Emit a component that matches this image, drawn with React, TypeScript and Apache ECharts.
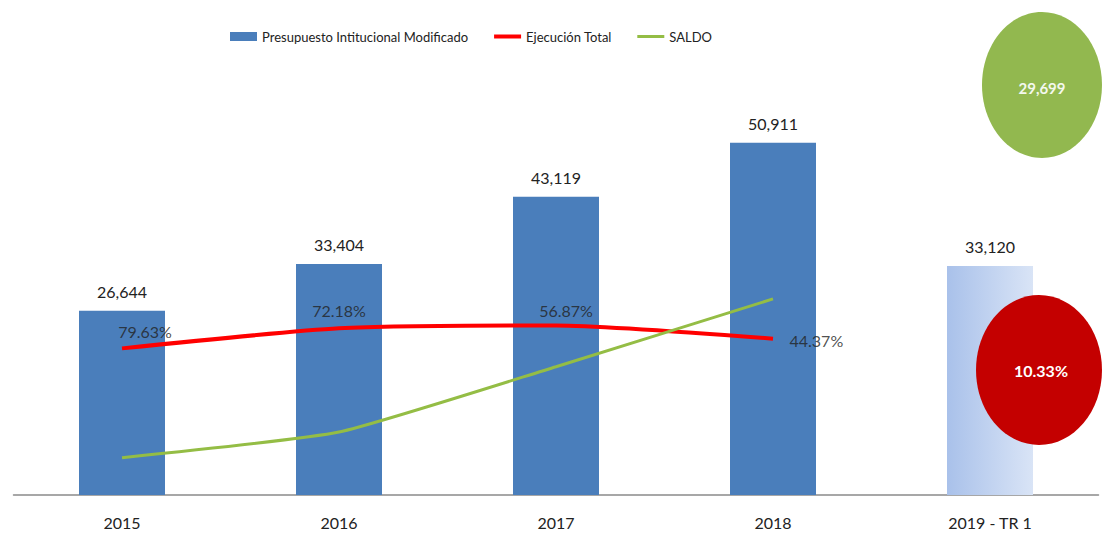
import React, { useEffect, useRef } from "react";
import * as echarts from "echarts";

const categories = ["2015", "2016", "2017", "2018", "2019 - TR 1"];
const presupuesto = [26644, 33404, 43119, 50911, 33120];
const ejecucion = [21200, 24100, 24500, 22600];
const ejecucionPct = [79.63, 72.18, 56.87, 44.37];
const saldo = [5400, 9100, 18550, 28350];
const saldo2019 = 29699;
const ejecucionPct2019 = 10.33;

const FONT = "Lato";
const fmt = (v: number) => v.toLocaleString("en-US");

export default function App() {
  const ref = useRef<HTMLDivElement>(null);
  useEffect(() => {
    if (!ref.current) return;
    const chart = echarts.init(ref.current, null, { renderer: "svg" });
    const pctLabelPos: any[] = [
      { position: "top", offset: [23, -3] },
      { position: "top", offset: [0, -4] },
      { position: "top", offset: [10, -2] },
      { position: "right", distance: 16, offset: [0, 2] },
    ];
    const noSymbol = { color: "rgba(0,0,0,0)", borderWidth: 0, opacity: 0 };
    chart.setOption({
      animation: false,
      textStyle: { fontFamily: FONT },
      legend: {
        data: [
          { name: "Presupuesto Intitucional Modificado", icon: "rect" },
          { name: "Ejecución Total", itemStyle: noSymbol, lineStyle: { width: 4 } },
          { name: "SALDO", itemStyle: noSymbol, lineStyle: { width: 3 } },
        ],
        left: 225,
        top: 25,
        itemWidth: 27,
        itemHeight: 9,
        itemGap: 24,
        textStyle: { fontFamily: FONT, fontSize: 13, color: "#222" },
      },
      grid: { left: 13.5, right: 4.5, top: 80, bottom: 38 },
      xAxis: {
        type: "category",
        data: categories,
        axisLine: { lineStyle: { color: "#8a8a8a", width: 1.5 } },
        axisTick: { show: false },
        axisLabel: { color: "#222", fontSize: 16, margin: 19, fontFamily: FONT },
      },
      yAxis: { type: "value", min: 0, max: 60000, show: false, splitLine: { show: false } },
      series: [
        {
          name: "Presupuesto Intitucional Modificado",
          type: "bar",
          barWidth: 86,
          data: presupuesto.map((v, i) =>
            i === 4
              ? {
                  value: v,
                  itemStyle: {
                    color: new echarts.graphic.LinearGradient(0, 0, 1, 0, [
                      { offset: 0, color: "#a9c1ea" },
                      { offset: 1, color: "#d9e4f6" },
                    ]),
                  },
                }
              : v
          ),
          itemStyle: { color: "#4a7ebb" },
          label: {
            show: true,
            position: "top",
            distance: 11,
            fontSize: 16,
            color: "#222",
            fontFamily: FONT,
            formatter: (p: any) => fmt(p.value),
          },
        },
        {
          name: "Ejecución Total",
          type: "line",
          data: ejecucion,
          smooth: 0.2,
          symbol: "none",
          lineStyle: { color: "#ff0000", width: 4 },
          itemStyle: { color: "#ff0000" },
          z: 3,
        },
        {
          name: "SALDO",
          type: "line",
          data: saldo,
          smooth: 0.15,
          symbol: "none",
          lineStyle: { color: "#94bd45", width: 3 },
          itemStyle: { color: "#94bd45" },
          z: 3,
        },
        {
          name: "pct",
          type: "scatter",
          symbol: "circle",
          symbolSize: 1,
          itemStyle: { color: "rgba(0,0,0,0)" },
          z: 4,
          data: ejecucion.map((v, i) => ({
            value: v,
            label: { show: true, ...pctLabelPos[i] },
          })),
          label: {
            show: true,
            fontSize: 16,
            color: "#222",
            fontFamily: FONT,
            formatter: (p: any) => ejecucionPct[p.dataIndex].toFixed(2) + "%",
          },
        },
      ],
      graphic: [
        {
          type: "ellipse",
          shape: { cx: 1042, cy: 85, rx: 60, ry: 73 },
          style: { fill: "#92b84f" },
          z: 10,
        },
        {
          type: "text",
          x: 1042,
          y: 88,
          style: {
            text: fmt(saldo2019),
            fill: "#f4f8ee",
            font: `bold 15px ${FONT}`,
            align: "center",
            verticalAlign: "middle",
          },
          z: 11,
        },
        {
          type: "ellipse",
          shape: { cx: 1039, cy: 370, rx: 63, ry: 75 },
          style: { fill: "#c40000" },
          z: 10,
        },
        {
          type: "text",
          x: 1041,
          y: 370,
          style: {
            text: ejecucionPct2019.toFixed(2) + "%",
            fill: "#ffffff",
            font: `bold 16px ${FONT}`,
            align: "center",
            verticalAlign: "middle",
          },
          z: 11,
        },
      ],
    });
    return () => chart.dispose();
  }, []);
  return (
    <div
      ref={ref}
      style={{ position: "fixed", left: 0, top: 0, width: 1103, height: 533, background: "#fff" }}
    />
  );
}
